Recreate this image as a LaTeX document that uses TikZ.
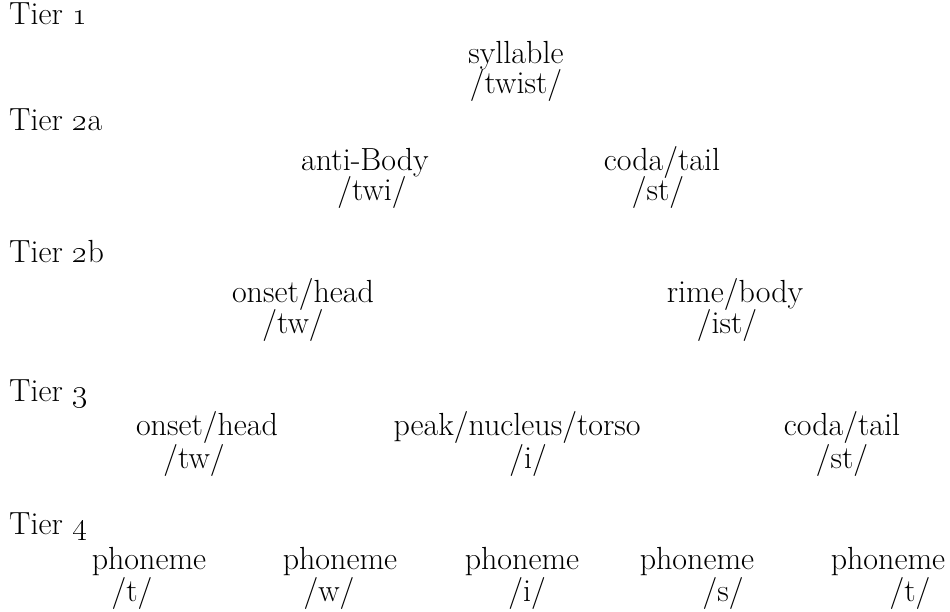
\RequirePackage{fix-cm}
\documentclass[tikz,border=0pt]{standalone}
\usepackage{tikz}

\tikzstyle{tiername} = [
    anchor=west,
    inner sep=0pt,
    text height=22pt,
    text depth=8pt
    ]
\tikzstyle{unit} = [
    anchor=center,
    inner sep=0pt,
    text height=22pt,
    text depth=8pt
    ]
\newcommand{\tier}[1]{Tier~\oldstylenums{#1}}

\begin{document}
\begin{tikzpicture}[x=1pt, y=-1pt, every node/.style={font=\fontsize{32}{38}\selectfont}]
\useasboundingbox (0,0) rectangle (950,612);

% tier 1
\node[tiername] (t1) at (9,18) {\tier{1}};
\node[unit] (syl)  at (516,57) {syllable};
\node[unit] (syls) at (516,87) {/twist/};

% tier 2a
\node[tiername] (t2a) at (9,124) {\tier{2}a};
\node[unit] (anti)  at (365,164) {anti-Body};
\node[unit] (antis) at (372,194) {/twi/};
\node[unit] (coda)  at (662,164) {coda/tail};
\node[unit] (codas) at (658,194) {/st/};

% tier 2b
\node[tiername] (t2b) at (9,255) {\tier{2}b};
\node[unit] (onset)  at (303,295) {onset/head};
\node[unit] (onsets) at (293,326) {/tw/};
\node[unit] (rime)   at (735,295) {rime/body};
\node[unit] (rimes)  at (727,326) {/ist/};

% tier 3
\node[tiername] (t3) at (9,394) {\tier{3}};
\node[unit] (onthree)   at (207,428) {onset/head};
\node[unit] (onthrees)  at (194,461) {/tw/};
\node[unit] (peak)      at (517,428) {peak/nucleus/torso};
\node[unit] (peaks)     at (528,461) {/i/};
\node[unit] (codathree) at (842,428) {coda/tail};
\node[unit] (codathrees) at (842,461) {/st/};

% tier 4
\node[tiername] (t4) at (9,527) {\tier{4}};
\foreach \px/\sx/\seg [count=\i] in {149/132/t, 340/329/w, 522/527/i, 697/723/s, 888/910/t}{
    \node[unit] (ph\i)  at (\px,562) {phoneme};
    \node[unit] (ph\i s) at (\sx,594) {/\seg/};
}
\end{tikzpicture}
\end{document}
